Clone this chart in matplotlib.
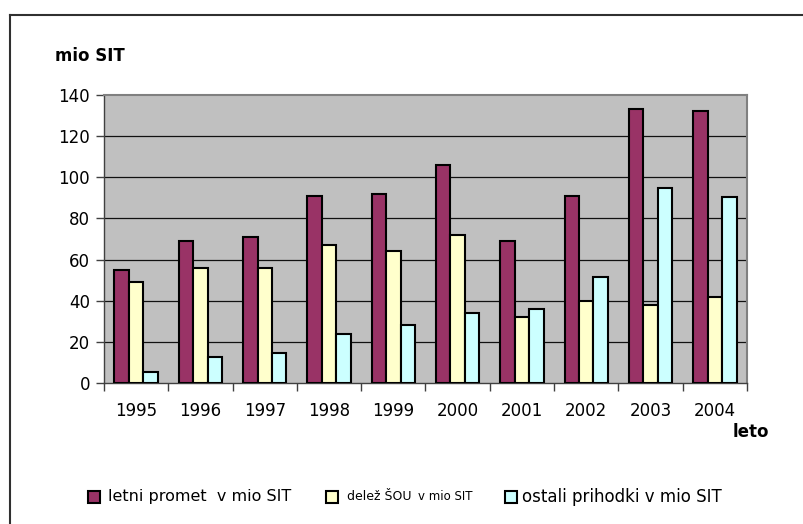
import matplotlib
matplotlib.use("Agg")
import matplotlib.pyplot as plt
from matplotlib.patches import Rectangle
from matplotlib.lines import Line2D
import numpy as np

years = ["1995", "1996", "1997", "1998", "1999", "2000", "2001", "2002", "2003", "2004"]
letni_promet = [55, 69, 71, 91, 92, 106, 69, 91, 133, 132]
delez_sou = [49, 56, 56, 67, 64, 72, 32, 40, 38, 42]
ostali_prihodki = [5.5, 12.5, 14.5, 24, 28, 34, 36, 51.5, 95, 90.5]
y_ticks = [0, 20, 40, 60, 80, 100, 120, 140]

colors = ["#993366", "#FFFFCC", "#CCFFFF"]
series = [letni_promet, delez_sou, ostali_prihodki]

plt.rcParams['font.family'] = ['DejaVu Sans']
W, H = 804, 524
fig = plt.figure(figsize=(W / 100, H / 100), dpi=100)

def fx(px):
    return px / W

def fy(py):
    return 1 - py / H

ax = fig.add_axes([fx(104), fy(383), fx(747) - fx(104), fy(95) - fy(383)])
ax.set_facecolor("#C0C0C0")

x = np.arange(len(years))
bw = 0.225
for i, (vals, c) in enumerate(zip(series, colors)):
    ax.bar(x + (i - 1) * bw, vals, width=bw, color=c, edgecolor="black",
           linewidth=1.5, zorder=3)

ax.set_xlim(-0.5, len(years) - 0.5)
ax.set_ylim(0, 140)
ax.set_yticks(y_ticks)
ax.set_yticklabels([str(v) for v in y_ticks], fontsize=12)
for v in y_ticks[1:-1]:
    ax.axhline(v, color="#111111", linewidth=0.9, zorder=1)

ax.set_xticks(x)
ax.set_xticklabels(years, fontsize=12)
ax.tick_params(axis="x", length=0, pad=14)
ax.set_xticks(np.arange(-0.5, len(years)), minor=True)
ax.tick_params(axis="x", which="minor", length=6, width=1, color="#404040", direction="out")
ax.tick_params(axis="y", length=6, width=1, color="#404040", direction="out", pad=4)

for side in ["top", "right"]:
    ax.spines[side].set_color("#808080")
    ax.spines[side].set_linewidth(1.5)
ax.spines["left"].set_color("#404040")
ax.spines["bottom"].set_color("#404040")
ax.spines["left"].set_linewidth(1.0)
ax.spines["bottom"].set_linewidth(1.0)

# outer border (left and top visible)
fig.add_artist(Line2D([fx(10), fx(10)], [fy(15), 0], color="#303030", linewidth=1.5))
fig.add_artist(Line2D([fx(10), 1], [fy(15), fy(15)], color="#303030", linewidth=1.5))

fig.text(fx(55), fy(56), "mio SIT", fontsize=12, fontweight="bold", va="center", ha="left")
fig.text(fx(733), fy(432), "leto", fontsize=12, fontweight="bold", va="center", ha="left")

# legend
ly = 497
sq = 12
def legend_square(px, color):
    fig.add_artist(Rectangle((fx(px), fy(ly + sq / 2)), fx(sq), fy(0) - fy(sq),
                             facecolor=color, edgecolor="black", linewidth=1.5,
                             transform=fig.transFigure))

legend_square(88, colors[0])
fig.text(fx(108), fy(ly), "letni promet  v mio SIT", fontsize=11.5, va="center", ha="left")
legend_square(326, colors[1])
fig.text(fx(347), fy(ly), "delež ŠOU", fontsize=9, va="center", ha="left")
fig.text(fx(418), fy(ly), "v mio SIT", fontsize=8.5, va="center", ha="left")
legend_square(505, colors[2])
fig.text(fx(522), fy(ly), "ostali prihodki v mio SIT", fontsize=12, va="center", ha="left")

fig.savefig("out.png", dpi=100)
